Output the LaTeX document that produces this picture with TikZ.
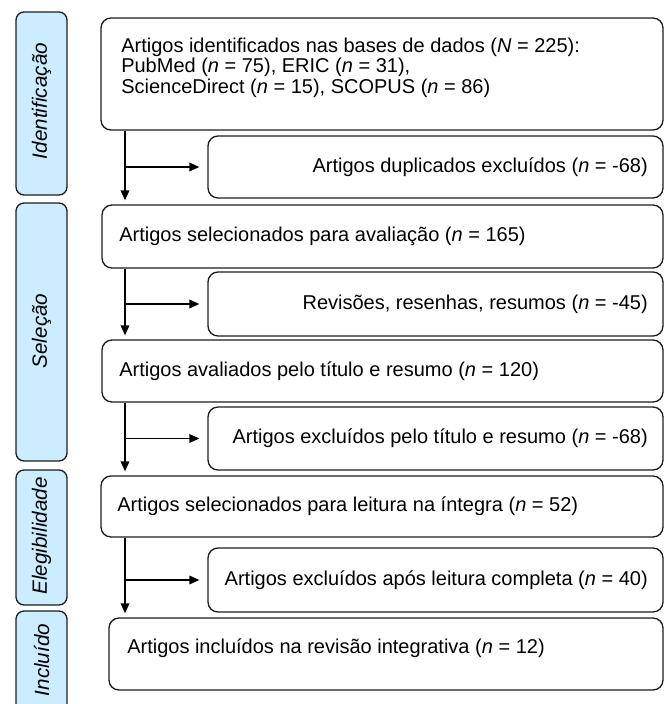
\documentclass[tikz,border=0pt]{standalone}
\usepackage{fontspec}
\setmainfont{Liberation Sans}
\usetikzlibrary{arrows.meta}
\definecolor{sidefill}{RGB}{204,236,255}
\definecolor{edge}{RGB}{30,30,30}
\begin{document}
\begin{tikzpicture}[x=0.75pt,y=-0.75pt,
  box/.style={draw=edge, line width=1pt, rounded corners=7.5pt, fill=white, inner sep=0pt},
  side/.style={draw=edge, line width=1pt, rounded corners=6pt, fill=sidefill, inner sep=0pt, minimum width=38.25pt},
  txt/.style={font=\fontsize{15pt}{18pt}\selectfont, inner sep=0pt},
  stxt/.style={font=\fontsize{15.5pt}{18pt}\selectfont\itshape, rotate=90, inner sep=0pt},
  arr/.style={draw=black, line width=1pt, -{Triangle[length=7.5pt,width=6.5pt]}}]
\useasboundingbox (0,0) rectangle (670,704);
% side bars
\node[side, minimum height=137.25pt] (s1) at (41.5,103.5) {};
\node[side, minimum height=193.5pt] (s2) at (41.5,332) {};
\node[side, minimum height=101.25pt] (s3) at (41.5,537.5) {};
\node[side, minimum height=89.25pt] (s4) at (41.5,670.5) {};
\node[stxt] (t1) at (41.5,101) {Identificação};
\node[stxt] (t2) at (41.5,331) {Seleção};
\node[stxt] (t3) at (41.5,536) {Elegibilidade};
\node[stxt] (t4) at (41.5,660) {Incluído};
% main boxes
\node[box, minimum width=421.5pt, minimum height=84pt] (b1) at (382,74) {};
\node[box, minimum width=341.25pt, minimum height=46.5pt] (b2) at (435.5,167) {};
\node[box, minimum width=420.75pt, minimum height=47.25pt] (b3) at (382.5,236.5) {};
\node[box, minimum width=341.25pt, minimum height=48pt] (b4) at (435.5,304) {};
\node[box, minimum width=420.75pt, minimum height=46.5pt] (b5) at (382.5,371) {};
\node[box, minimum width=341.25pt, minimum height=47.25pt] (b6) at (435.5,438.5) {};
\node[box, minimum width=421.5pt, minimum height=45.75pt] (b7) at (382,506.5) {};
\node[box, minimum width=341.25pt, minimum height=48pt] (b8) at (435.5,580) {};
\node[box, minimum width=415.5pt, minimum height=54pt] (b9) at (386,654) {};
% texts
\node[txt, anchor=base west] (x1a) at (121,52) {Artigos identificados nas bases de dados (\textit{N} = 225):};
\node[txt, anchor=base west] (x1b) at (121,72.5) {PubMed (\textit{n} = 75), ERIC (\textit{n} = 31),};
\node[txt, anchor=base west] (x1c) at (121,93) {ScienceDirect (\textit{n} = 15), SCOPUS (\textit{n} = 86)};
\node[txt, anchor=east] (x2) at (648,167) {Artigos duplicados excluídos (\textit{n} = -68)};
\node[txt, anchor=west] (x3) at (119,236.5) {Artigos selecionados para avaliação (\textit{n} = 165)};
\node[txt, anchor=east] (x4) at (648,304) {Revisões, resenhas, resumos (\textit{n} = -45)};
\node[txt, anchor=west] (x5) at (119,371) {Artigos avaliados pelo título e resumo (\textit{n} = 120)};
\node[txt, anchor=east] (x6) at (648,438.5) {Artigos excluídos pelo título e resumo (\textit{n} = -68)};
\node[txt, anchor=west] (x7) at (117,506.5) {Artigos selecionados para leitura na íntegra (\textit{n} = 52)};
\node[txt, anchor=east] (x8) at (648,580) {Artigos excluídos após leitura completa (\textit{n} = 40)};
\node[txt, anchor=west] (x9) at (127,648) {Artigos incluídos na revisão integrativa (\textit{n} = 12)};
% connectors
\coordinate (vx) at (125,0);
\draw[arr, shorten >=3pt] (b1.south -| vx) -- (b3.north -| vx);
\draw[arr, shorten >=3pt] (b3.south -| vx) -- (b5.north -| vx);
\draw[arr, shorten >=3pt] (b5.south -| vx) -- (b7.north -| vx);
\draw[arr, shorten >=3pt] (b7.south -| vx) -- (b9.north -| vx);
\draw[arr] (b2.west -| vx) -- ([xshift=-6pt]b2.west);
\draw[arr] (b4.west -| vx) -- ([xshift=-6pt]b4.west);
\draw[arr] (b6.west -| vx) -- ([xshift=-6pt]b6.west);
\draw[arr] (b8.west -| vx) -- ([xshift=-6pt]b8.west);
\end{tikzpicture}
\end{document}
